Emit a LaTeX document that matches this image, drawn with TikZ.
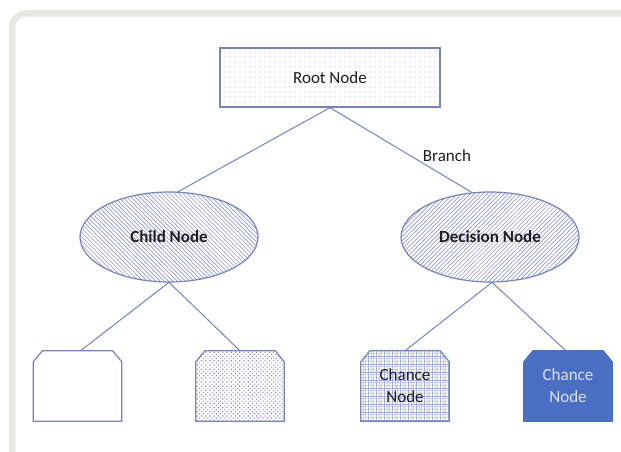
\documentclass[tikz,border=0pt]{standalone}
\usepackage{fontspec}
\setmainfont{Carlito}
\usetikzlibrary{shapes.geometric,patterns.meta}
\definecolor{frameC}{HTML}{E9E7E1}
\definecolor{edgeC}{HTML}{7A82BA}
\definecolor{lineC}{HTML}{7282C2}
\definecolor{hatchC}{HTML}{8E97C8}
\definecolor{dotC}{HTML}{9CA1C2}
\definecolor{weaveC}{HTML}{878DB8}
\definecolor{gridC}{HTML}{A4AEDE}
\definecolor{gridfineC}{HTML}{C6CCEA}
\definecolor{solidC}{HTML}{4A6FC2}
\definecolor{lightT}{HTML}{DCE1F4}
\definecolor{textC}{HTML}{1E1E1E}
\newcommand\chbox[2]{\path[#2] (#1.south west) -- ([yshift=-11pt]#1.north west) -- ([xshift=9pt]#1.north west) -- ([xshift=-9pt]#1.north east) -- ([yshift=-11pt]#1.north east) -- (#1.south east) -- cycle;}
\begin{document}
\begin{tikzpicture}[x=1pt,y=-1pt,
  lbl/.style={font=\fontsize{17}{22}\selectfont, text=textC, align=center, inner sep=0pt},
  conn/.style={draw=lineC, line width=1pt},
  rootbox/.style={draw=edgeC, line width=1.3pt, minimum width=220pt, minimum height=59pt, inner sep=0pt,
    pattern={Dots[distance=5pt,radius=0.6pt]}, pattern color=dotC, lbl},
  ell/.style={ellipse, draw=edgeC, line width=1.2pt, minimum width=178pt, minimum height=90pt, inner sep=0pt,
    font=\bfseries\fontsize{17}{22}\selectfont, text=textC},
  slot/.style={rectangle, minimum width=88pt, minimum height=70pt, inner sep=0pt},
  boxline/.style={draw=edgeC, line width=1.2pt},
]
\useasboundingbox (0,0) rectangle (621,452);
\begin{scope}
\clip (0,0) rectangle (621,452);
\draw[frameC, line width=6.5pt, rounded corners=14pt] (12,13.5) rectangle (640,480);
\end{scope}

\node[rootbox] (root) at (330,77.5) {Root Node};
\node[ell, pattern={Lines[angle=-45,distance=3pt,line width=0.65pt]}, pattern color=hatchC] (child) at (169,237) {Child Node};
\node[ell, pattern={Lines[angle=45,distance=3pt,line width=0.65pt]}, pattern color=hatchC] (dec) at (490,237) {Decision Node};

\node[slot] (b1) at (77.5,386) {};
\node[slot] (b2) at (240,386) {};
\node[slot] (b3) at (405,386) {};
\node[slot] (b4) at (568,386) {};

\chbox{b1}{boxline, fill=white}
\chbox{b2}{boxline, pattern={Dots[distance=3pt,radius=0.8pt,angle=45]}, pattern color=weaveC}
\chbox{b3}{boxline, preaction={pattern={Hatch[angle=0,distance=2.667pt,line width=0.35pt]}, pattern color=gridfineC}, pattern={Hatch[angle=0,distance=8pt,line width=0.7pt]}, pattern color=gridC}
\chbox{b4}{draw=solidC, line width=1.2pt, fill=solidC}

\node[lbl] (t3) at (b3.center) {Chance\\Node};
\node[lbl, text=lightT] (t4) at (b4.center) {Chance\\Node};

\draw[conn] (root.south) -- (child.79);
\draw[conn] (root.south) -- (dec.112);
\draw[conn] (child.south) -- ([xshift=3pt]b1.north);
\draw[conn] (child.south) -- (b2.north);
\draw[conn] ([xshift=2pt]dec.south) -- (b3.north);
\draw[conn] ([xshift=2pt]dec.south) -- ([xshift=-2pt]b4.north);

\node[lbl] (br) at (447,156) {Branch};
\end{tikzpicture}
\end{document}
